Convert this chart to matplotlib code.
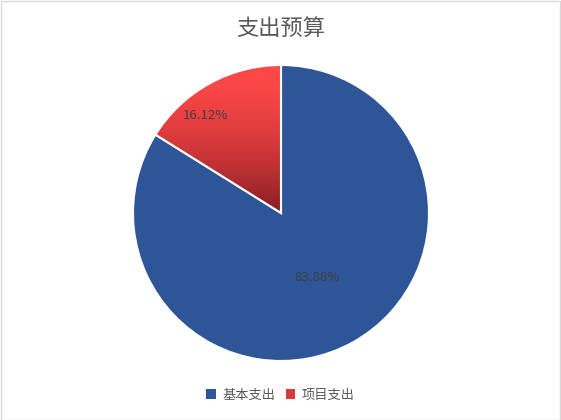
import numpy as np
import matplotlib
matplotlib.use("Agg")
import matplotlib.pyplot as plt
from matplotlib.patches import Rectangle, Patch

plt.rcParams['font.family'] = ['Noto Sans CJK SC', 'DejaVu Sans']

# data
categories = ["基本支出", "项目支出"]
values = [83.88, 16.12]
colors = ["#2E5597", "#E03A3A"]
title = "支出预算"

fig = plt.figure(figsize=(5.61, 4.2), dpi=100)
fig.patches.append(Rectangle((0.001, 0.001), 0.997, 0.996, transform=fig.transFigure,
                             fill=False, edgecolor="#D9D9D9", linewidth=1))

cx, cy, r = 281, 213, 148
ax = fig.add_axes([(cx - r) / 561, (420 - cy - r) / 420, 2 * r / 561, 2 * r / 420])
wedges, texts, autotexts = ax.pie(values, colors=colors, startangle=90, counterclock=False,
                                  autopct="%.2f%%", pctdistance=0.5,
                                  wedgeprops=dict(edgecolor="white", linewidth=1.5),
                                  textprops=dict(fontsize=9.5, color="#404040"))

# small slice label sits further out, a bit toward the left edge of the slice
w = wedges[1]
ang = np.deg2rad(w.theta1 + (w.theta2 - w.theta1) * 0.65)
autotexts[1].set_position((0.83 * np.cos(ang), 0.83 * np.sin(ang)))

# vertical gradient on the red slice
grad = np.linspace(0, 1, 256).reshape(-1, 1) ** 1.6
top = np.array([255, 72, 72]) / 255
bot = np.array([135, 30, 35]) / 255
img = top + (bot - top) * grad[:, :, None] * np.ones((1, 1, 3))
im = ax.imshow(img, extent=(-0.9, 0.05, 0.0, 1.0), origin="upper", aspect="auto", zorder=1.5)
im.set_clip_path(w)
w.set_facecolor("none")
w.set_zorder(2)
ax.set_xlim(-1, 1)
ax.set_ylim(-1, 1)
ax.set_aspect("equal")

fig.text(0.5, 1 - 28 / 420, title, ha="center", va="center", fontsize=16, color="#595959")

handles = [Patch(facecolor=colors[0]), Patch(facecolor="#D83A3A")]
fig.legend(handles, categories, loc="center", bbox_to_anchor=(0.5, 1 - 395 / 420), ncol=2,
           frameon=False, fontsize=9.5, handlelength=0.7, handleheight=0.7, handletextpad=0.5,
           columnspacing=0.8, labelcolor="#595959")

fig.savefig("out.png", dpi=100)
